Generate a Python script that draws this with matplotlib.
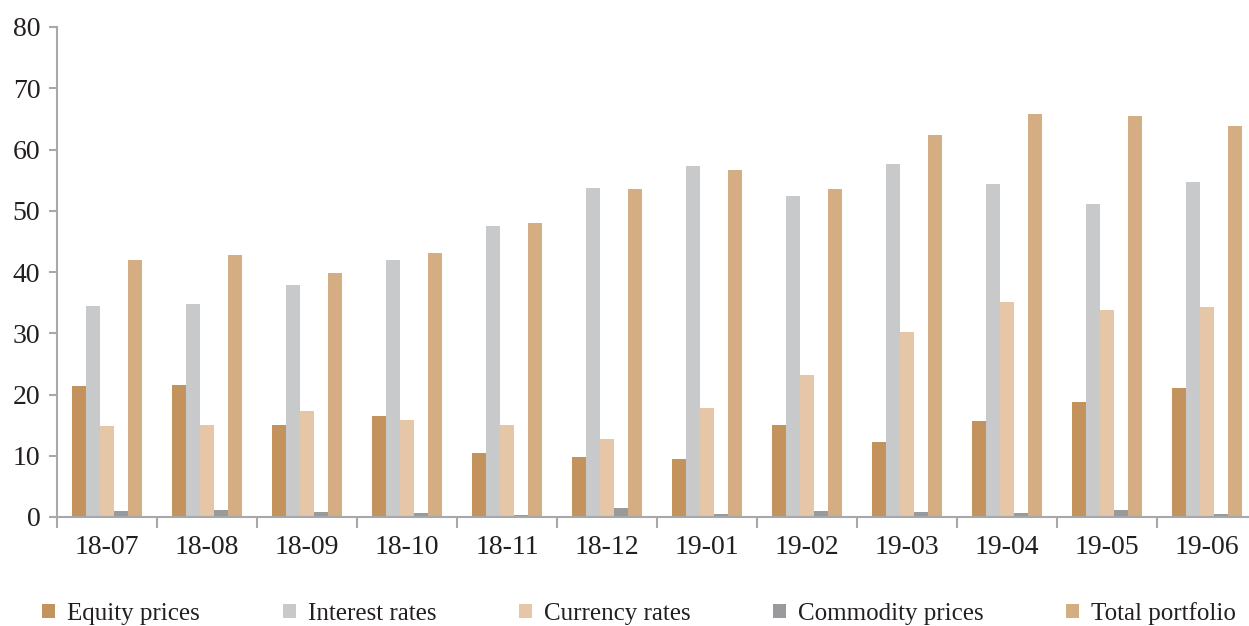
import numpy as np
import matplotlib.pyplot as plt
from matplotlib.patches import Patch

months = ["18-07", "18-08", "18-09", "18-10", "18-11", "18-12",
          "19-01", "19-02", "19-03", "19-04", "19-05", "19-06"]

equity = [21.4, 21.6, 15.0, 16.5, 10.4, 9.8, 9.5, 15.0, 12.2, 15.7, 18.8, 21.1]
interest = [34.5, 34.7, 37.9, 42.0, 47.5, 53.7, 57.3, 52.4, 57.6, 54.4, 51.1, 54.7]
currency = [14.8, 15.1, 17.3, 15.8, 15.0, 12.7, 17.8, 23.2, 30.2, 35.1, 33.8, 34.3]
commodity = [1.0, 1.2, 0.8, 0.65, 0.3, 1.5, 0.5, 1.0, 0.8, 0.6, 1.1, 0.5]
total = [41.9, 42.8, 39.8, 43.1, 48.0, 53.5, 56.7, 53.5, 62.4, 65.8, 65.5, 63.8]

series_names = ["Equity prices", "Interest rates", "Currency rates",
                "Commodity prices", "Total portfolio"]
colors = ["#C4935D", "#C8C9CA", "#E5C7A8", "#999A9E", "#D5AD82"]

plt.rcParams["font.family"] = ["Liberation Serif", "DejaVu Serif"]
text_color = "#231F20"
axis_color = "#A7A8AA"

fig = plt.figure(figsize=(12.49, 6.26), dpi=100)
ax = fig.add_axes([57 / 1249, 109 / 626, 1200 / 1249, 490 / 626])

x = np.arange(len(months))
width = 0.14
data = [equity, interest, currency, commodity, total]
for i, (vals, c) in enumerate(zip(data, colors)):
    ax.bar(x + (i - 2) * width, vals, width, color=c, zorder=2)

ax.set_xlim(-0.5, 11.5)
ax.set_ylim(0, 80)
ax.set_yticks(range(0, 81, 10))

ax.set_xticks(x)
ax.set_xticklabels(months)
ax.set_xticks(np.arange(-0.5, 12, 1), minor=True)
ax.tick_params(axis="x", which="major", length=0, pad=13, labelsize=20, labelcolor=text_color)
ax.tick_params(axis="x", which="minor", length=8, width=1.5, color=axis_color)
ax.tick_params(axis="y", length=6, width=1.5, color=axis_color, pad=6, labelsize=20, labelcolor=text_color)

for s in ["top", "right"]:
    ax.spines[s].set_visible(False)
for s in ["left", "bottom"]:
    ax.spines[s].set_color(axis_color)
    ax.spines[s].set_linewidth(1.5)
    ax.spines[s].set_zorder(3)

handles = [Patch(facecolor=c, edgecolor="none") for c in colors]
fig.legend(handles, series_names, loc="lower left", bbox_to_anchor=(41 / 1249, 0.0),
           ncol=5, frameon=False, fontsize=18, handlelength=0.52, handleheight=0.52,
           handletextpad=0.48, columnspacing=3.3, borderpad=0.05, borderaxespad=0,
           labelcolor=text_color)

fig.savefig("out.png", dpi=100)
